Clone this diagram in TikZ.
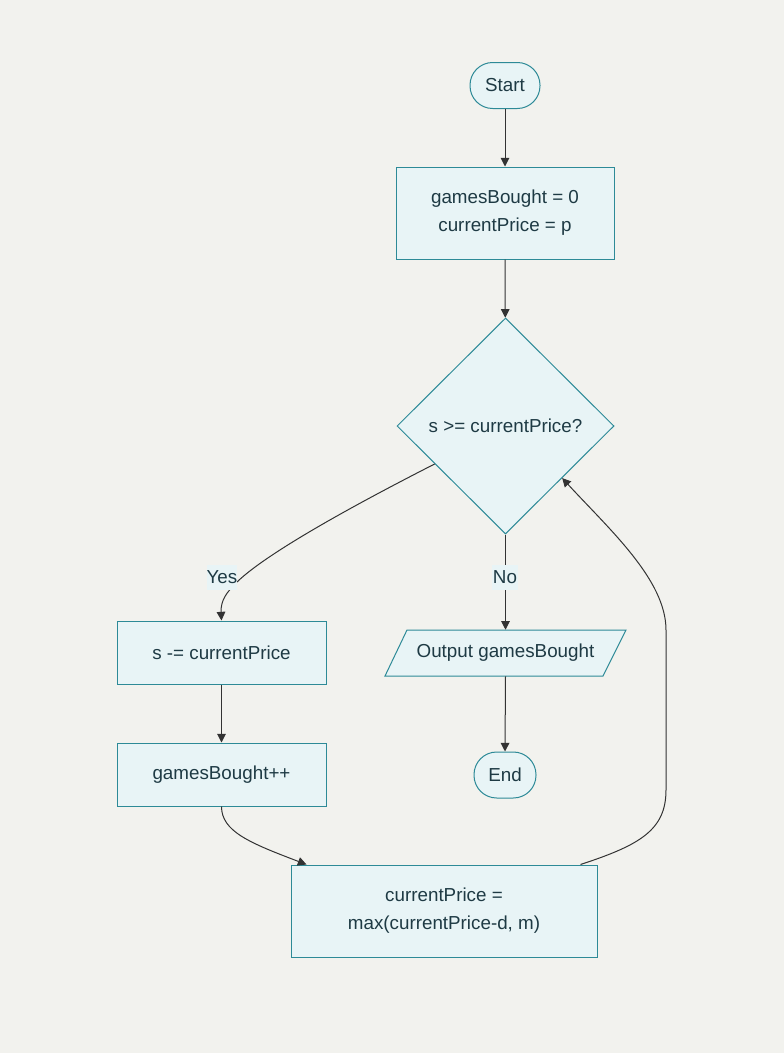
\documentclass[tikz,border=0pt]{standalone}
\usepackage{fontspec}
\setmainfont{Liberation Sans}
\usetikzlibrary{shapes.geometric,arrows.meta,calc}
\definecolor{bg}{HTML}{F2F2EE}
\definecolor{nodefill}{HTML}{E8F4F6}
\definecolor{nodeline}{HTML}{2D8A97}
\definecolor{ink}{HTML}{1E3A44}
\definecolor{wire}{HTML}{333333}
\begin{document}
\begin{tikzpicture}[x=0.75pt,y=-0.75pt,
  base/.style={font=\fontsize{14.1}{21}\selectfont, text=ink, inner sep=0pt, align=center},
  outline/.style={draw=nodeline, fill=nodefill, line width=0.75pt},
  proc/.style={base, rectangle, outline},
  term/.style={proc, rounded corners=17pt, minimum height=34.5pt},
  decide/.style={base, diamond, outline, minimum width=162.75pt, minimum height=162pt},
  flow/.style={draw=wire, line width=0.75pt, -{Triangle[length=6.5pt,width=6.5pt]}},
  elabel/.style={base, fill=nodefill, minimum height=18.75pt}
]
% canvas
\path[fill=bg] (0,0) rectangle (784,1053);

% nodes
\node[term, minimum width=52.5pt] (start) at (505,85.5) {Start};
\node[proc, minimum width=163.5pt, minimum height=69pt] (init) at (505,213)
  {gamesBought = 0\\currentPrice = p};
\node[decide] (test) at (505.5,426) {s >= currentPrice?};
\node[proc, minimum width=156.75pt, minimum height=47.25pt] (pay) at (221.5,652.5) {s -= currentPrice};
\node[proc, minimum width=156.75pt, minimum height=47.25pt] (count) at (221.5,774.5) {gamesBought++};
% input/output parallelogram, outline drawn first, text node on top
\coordinate (outc) at (505.5,653);
\draw[outline] ($(outc)+(-98.5,-23)$) -- ($(outc)+(120.5,-23)$)
  -- ($(outc)+(97.5,23)$) -- ($(outc)+(-120.5,23)$) -- cycle;
\node[base, minimum width=180.75pt, minimum height=34.5pt] (out) at (outc) {Output gamesBought};
\node[term, minimum width=46.5pt] (end) at (505,775) {End};
\node[proc, minimum width=229.5pt, minimum height=69pt] (upd) at (444,911)
  {currentPrice =\\max(currentPrice-d, m)};

% connectors
\draw[flow] (start) -- (init);
\draw[flow] (init) -- (test);
\draw[flow] ($(test.west)!0.35!(test.south)$) .. controls (370,497) and (270,550) .. (237,582)
  .. controls (226,593) and (221,600) .. (221,612) -- (pay.north);
\node[elabel, minimum width=22.5pt] (yes) at (222,577.5) {Yes};
\draw[flow] (test.south) -- (out.north);
\node[elabel, minimum width=20pt] (no) at (505,577.5) {No};
\draw[flow] (out.south) -- (end.north);
\draw[flow] (pay) -- (count);
\draw[flow] (count.south) .. controls +(0,25) and (250,843) .. ($(upd.north west)+(16,0)$);
\draw[flow] ($(upd.north east)+(-17,0)$) .. controls (640,845) and (666,830) .. (666,790)
  -- (666,630) .. controls (666,580) and (610,530) .. ($(test.east)!0.48!(test.south)$);
\end{tikzpicture}
\end{document}
